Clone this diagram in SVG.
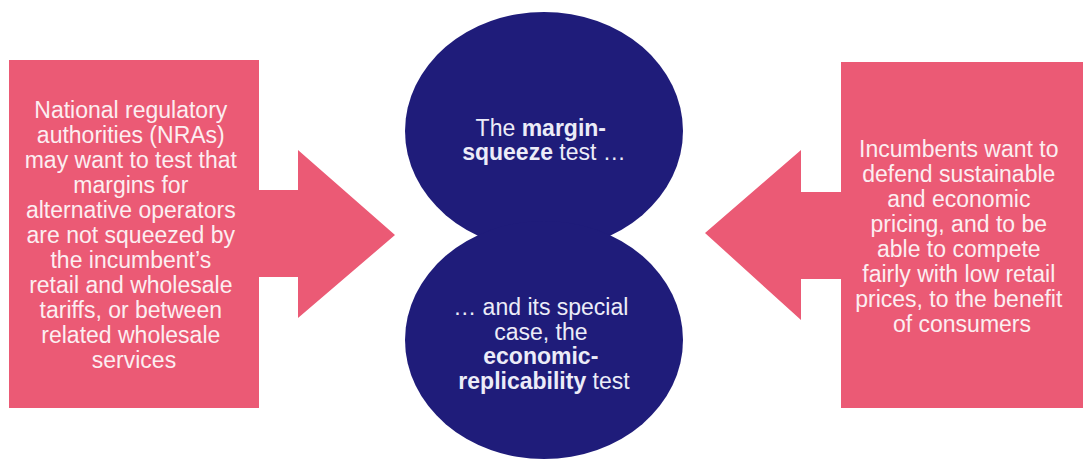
<svg xmlns="http://www.w3.org/2000/svg" width="1083" height="460" viewBox="0 0 1083 460">
  <style>
    .pink { fill: #EB5A75; }
    .navy { fill: #1F1C7A; }
    text { font-family: "Liberation Sans", Arial, sans-serif; font-size: 23px; text-anchor: middle; }
    .tp { fill: #FCEEF1; }
    .tn { fill: #ECECF8; }
    .b { font-weight: bold; }
  </style>
  <rect width="1083" height="460" fill="#FFFFFF"/>
  <g id="left-node">
    <path class="pink" d="M9,60 H259 V190 H298 V150 L395,235 L298,318 V277 H259 V408 H9 Z"/>
    <text class="tp">
      <tspan x="134" y="118">National regulatory</tspan>
      <tspan x="134" y="143">authorities (NRAs)</tspan>
      <tspan x="134" y="168">may want to test that</tspan>
      <tspan x="134" y="193">margins for</tspan>
      <tspan x="134" y="218">alternative operators</tspan>
      <tspan x="134" y="243">are not squeezed by</tspan>
      <tspan x="134" y="268">the incumbent’s</tspan>
      <tspan x="134" y="293">retail and wholesale</tspan>
      <tspan x="134" y="318">tariffs, or between</tspan>
      <tspan x="134" y="343">related wholesale</tspan>
      <tspan x="134" y="368">services</tspan>
    </text>
  </g>
  <g id="center-node">
    <ellipse class="navy" cx="544" cy="131" rx="139" ry="119"/>
    <ellipse class="navy" cx="544" cy="340" rx="139" ry="119"/>
    <text class="tn">
      <tspan x="544" y="136">The <tspan class="b">margin-</tspan></tspan>
      <tspan x="544" y="160"><tspan class="b">squeeze</tspan> test …</tspan>
    </text>
    <text class="tn">
      <tspan x="544" y="315">… and its special</tspan>
      <tspan x="544" y="340">case, the</tspan>
      <tspan x="544" y="364" class="b">economic-</tspan>
      <tspan x="544" y="389"><tspan class="b">replicability</tspan> test</tspan>
    </text>
  </g>
  <g id="right-node">
    <path class="pink" d="M1083,62 H841 V192 H801 V150 L705,233 L801,320 V279 H841 V408 H1083 Z"/>
    <text class="tp">
      <tspan x="962" y="157">Incumbents want to</tspan>
      <tspan x="962" y="182">defend sustainable</tspan>
      <tspan x="962" y="207">and economic</tspan>
      <tspan x="962" y="232">pricing, and to be</tspan>
      <tspan x="962" y="257">able to compete</tspan>
      <tspan x="962" y="282">fairly with low retail</tspan>
      <tspan x="962" y="307">prices, to the benefit</tspan>
      <tspan x="962" y="332">of consumers</tspan>
    </text>
  </g>
  <g id="connectors"></g>
</svg>
